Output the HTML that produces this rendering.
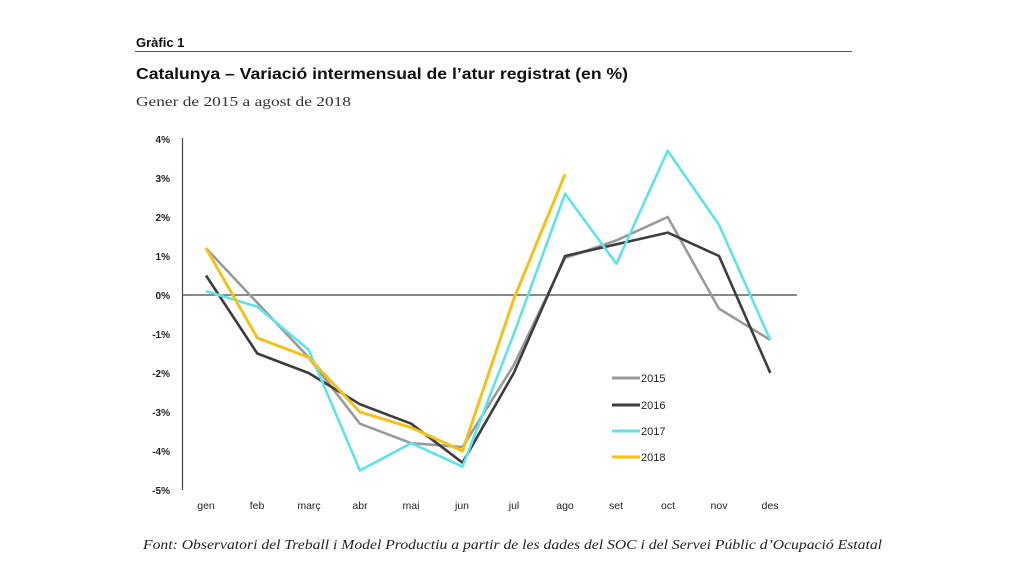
<!DOCTYPE html>
<html><head><meta charset="utf-8"><style>
html,body{margin:0;padding:0;background:#fff;width:1024px;height:576px;overflow:hidden}
</style></head><body>
<svg width="1024" height="576" xmlns="http://www.w3.org/2000/svg" font-family="Liberation Sans, sans-serif">
<text x="136" y="47" font-size="13" font-weight="bold" fill="#111">Gràfic 1</text>
<line x1="135" y1="51.5" x2="852" y2="51.5" stroke="#555" stroke-width="1"/>
<text x="136" y="79" font-size="15.5" font-weight="bold" fill="#111" textLength="492" lengthAdjust="spacingAndGlyphs">Catalunya – Variació intermensual de l’atur registrat (en %)</text>
<text x="136" y="106" font-size="14" font-family="Liberation Serif, serif" fill="#333" textLength="215" lengthAdjust="spacingAndGlyphs">Gener de 2015 a agost de 2018</text>
<g font-size="10" font-weight="bold" fill="#222" text-anchor="end">
<text x="170" y="143">4%</text><text x="170" y="182">3%</text><text x="170" y="221">2%</text><text x="170" y="260">1%</text><text x="170" y="299">0%</text><text x="170" y="338">-1%</text><text x="170" y="377">-2%</text><text x="170" y="416">-3%</text><text x="170" y="455">-4%</text><text x="170" y="494">-5%</text>
</g>
<line x1="182.5" y1="138" x2="182.5" y2="490" stroke="#444" stroke-width="1.2"/>
<line x1="182" y1="295" x2="797" y2="295" stroke="#444" stroke-width="1.3"/>
<g font-size="10.5" fill="#222" text-anchor="middle">
<text x="206" y="509">gen</text><text x="257" y="509">feb</text><text x="309" y="509">març</text><text x="360" y="509">abr</text><text x="411" y="509">mai</text><text x="462" y="509">jun</text><text x="514" y="509">jul</text><text x="565" y="509">ago</text><text x="616" y="509">set</text><text x="668" y="509">oct</text><text x="719" y="509">nov</text><text x="770" y="509">des</text>
</g>
<g fill="none" stroke-width="2.6" stroke-linejoin="round">
<polyline stroke="#9a9a9a" points="206,248.2 257.3,302.8 308.6,357.4 359.9,423.7 411.2,443.2 462.5,447.1 513.8,365.2 565.1,258 616.4,240.4 667.7,217 719,308.7 770.3,339.9"/>
<polyline stroke="#3d3d3d" points="206,275.5 257.3,353.5 308.6,373 359.9,404.2 411.2,423.7 462.5,462.7 513.8,373 565.1,256 616.4,244.3 667.7,232.6 719,256 770.3,373"/>
<polyline stroke="#5fe3ea" points="206,291.1 257.3,306.7 308.6,349.6 359.9,470.5 411.2,443.2 462.5,466.6 513.8,334 565.1,193.6 616.4,263.8 667.7,150.7 719,224.8 770.3,339.9"/>
<polyline stroke="#f2c21b" stroke-width="3" points="206,248.2 257.3,337.9 308.6,357.4 359.9,412 411.2,427.6 462.5,451 513.8,298.9 565.1,174.1"/>
</g>
<g stroke-width="3">
<line x1="612" y1="378" x2="640" y2="378" stroke="#9a9a9a"/>
<line x1="612" y1="405" x2="640" y2="405" stroke="#3d3d3d"/>
<line x1="612" y1="431" x2="640" y2="431" stroke="#5fe3ea"/>
<line x1="612" y1="457" x2="640" y2="457" stroke="#f2c21b"/>
</g>
<g font-size="11" fill="#222">
<text x="641" y="382">2015</text><text x="641" y="409">2016</text><text x="641" y="435">2017</text><text x="641" y="461">2018</text>
</g>
<text x="143" y="549" font-size="13.5" font-style="italic" font-family="Liberation Serif, serif" fill="#222" textLength="739" lengthAdjust="spacingAndGlyphs">Font: Observatori del Treball i Model Productiu a partir de les dades del SOC i del Servei Públic d’Ocupació Estatal</text>
</svg>
</body></html>
